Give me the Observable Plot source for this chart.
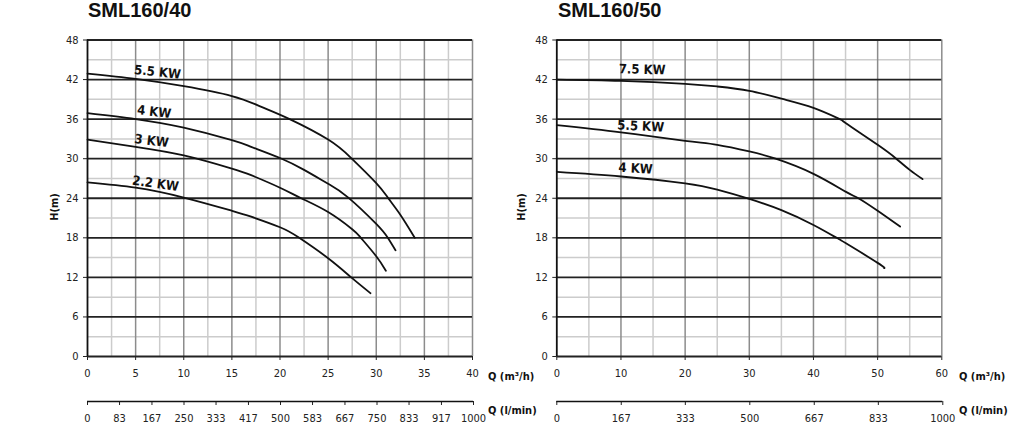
<!DOCTYPE html>
<html>
<head>
<meta charset="utf-8">
<script src="https://cdn.jsdelivr.net/npm/d3@7"></script>
<script src="https://cdn.jsdelivr.net/npm/@observablehq/plot@0.6"></script>
<style>
  html, body { margin: 0; padding: 0; background: #fff; }
  #wrap { position: relative; width: 1024px; height: 428px; overflow: hidden; background: #fff; }
  .abs { position: absolute; white-space: nowrap; }
  .title { font-family: "Liberation Sans", Arial, sans-serif; font-weight: bold; font-size: 20px; line-height: 20px; color: #111; }
  .lab { font-family: "Liberation Sans Narrow", "DejaVu Sans Condensed", "Roboto Condensed", sans-serif; font-weight: bold; font-size: 11px; line-height: 12px; color: #111; }
  .hm { transform: translate(-50%, -50%) rotate(-90deg); }
</style>
</head>
<body>
<div id="wrap"></div>
<script>
// ---------- data: SML160/40 (Q in m³/h, H in m) ----------
const titleLeft = "SML160/40";
const titleRight = "SML160/50";

const L55_q = [0, 5, 10, 15, 18, 21, 25, 27.4, 30, 31.2, 32.5, 34];
const L55_h = [42.9, 42.1, 41.0, 39.5, 37.9, 36.0, 32.9, 30.1, 26.3, 24.1, 21.5, 18.0];
const L4_q  = [0, 5, 10, 15, 17, 20, 22.5, 25, 27.1, 30, 31.2, 32];
const L4_h  = [36.9, 36.0, 34.7, 32.8, 31.8, 30.1, 28.3, 26.2, 24.1, 20.1, 18.0, 16.1];
const L3_q  = [0, 5, 10, 15, 17, 20, 22.2, 25, 27.5, 28.4, 30, 31];
const L3_h  = [32.9, 31.8, 30.5, 28.5, 27.5, 25.6, 24.0, 21.9, 19.3, 18.0, 15.2, 13.0];
const L22_q = [0, 5, 10, 15, 17, 20, 22, 25, 27.4, 29.4];
const L22_h = [26.4, 25.6, 24.1, 22.1, 21.2, 19.6, 18.0, 14.9, 12.0, 9.6];

// ---------- data: SML160/50 ----------
const R75_q = [0, 10, 20, 25, 30, 35, 40, 44.1, 45, 50, 52.9, 55, 57];
const R75_h = [42.0, 41.8, 41.35, 40.95, 40.3, 39.1, 37.7, 36.0, 35.4, 32.1, 30.0, 28.3, 26.9];
const R55_q = [0, 10, 20, 25, 30, 34.1, 40, 45, 47, 50, 53.5];
const R55_h = [35.1, 34.0, 32.7, 32.1, 31.1, 30.0, 27.7, 25.0, 24.0, 22.1, 19.7];
const R4_q  = [0, 10, 20, 25, 30, 35, 40, 43.6, 45, 50, 51];
const R4_h  = [28.0, 27.3, 26.25, 25.3, 23.9, 22.2, 19.95, 18.0, 17.2, 14.2, 13.4];

// series labels
const leftLabels  = ["5.5 KW", "4 KW", "3 KW", "2.2 KW"];
const leftLabQ    = [7.27, 6.93, 6.65, 7.07];
const leftLabH    = [43.1, 37.1, 32.7, 26.2];
const leftLabRot  = [6, 7, 7, 8];
const rightLabels = ["7.5 KW", "5.5 KW", "4 KW"];
const rightLabQ   = [13.3, 13.07, 12.27];
const rightLabH   = [43.5, 34.9, 28.5];
const rightLabRot = [1.5, 3, 3];

// axes
const yTicks  = [0, 6, 12, 18, 24, 30, 36, 42, 48];
const yMinor  = [3, 9, 15, 21, 27, 33, 39, 45];
const leftXTicks  = [0, 5, 10, 15, 20, 25, 30, 35, 40];
const leftXMinor  = [2.5, 7.5, 12.5, 17.5, 22.5, 27.5, 32.5, 37.5];
const rightXTicks = [0, 10, 20, 30, 40, 50, 60];
const rightXMinor = [5, 15, 25, 35, 45, 55];
const leftLpm  = [0, 83, 167, 250, 333, 417, 500, 583, 667, 750, 833, 917, 1000];
const rightLpm = [0, 167, 333, 500, 667, 833, 1000];

const NARROW = '"Liberation Sans Narrow", "DejaVu Sans Condensed", "Roboto Condensed", sans-serif';

function series(qs, hs, name) {
  return qs.map((q, i) => ({q, h: hs[i], s: name}));
}

function mainChart(cfg) {
  const curves = cfg.series.flat();
  const labs = cfg.labels.map((t, i) => ({t, q: cfg.labQ[i], h: cfg.labH[i], r: cfg.labRot[i]}));
  return Plot.plot({
    width: 512, height: 356,
    marginLeft: cfg.ml, marginRight: cfg.mr, marginTop: 11.5, marginBottom: 28,
    style: {fontFamily: NARROW, fontSize: "11px", color: "#222", background: "transparent", overflow: "visible"},
    x: {domain: [0, cfg.xmax], ticks: cfg.xTicks, tickSize: 4, tickPadding: 9, label: null},
    y: {domain: [0, 48], ticks: yTicks, tickSize: 4, tickPadding: 5, label: null},
    marks: [
      Plot.ruleX(cfg.xMinor, {stroke: "#cccccc", strokeWidth: 1.5}),
      Plot.ruleY(yMinor, {stroke: "#cccccc", strokeWidth: 1.5}),
      Plot.ruleX(cfg.xTicks.slice(1), {stroke: "#8c8c8c", strokeWidth: 1.5}),
      Plot.ruleY(yTicks, {stroke: "#222", strokeWidth: 1.8}),
      Plot.ruleX([0], {stroke: "#111", strokeWidth: 1.8}),
      Plot.line(curves, {x: "q", y: "h", z: "s", curve: "natural", stroke: "#111", strokeWidth: 1.8}),
      Plot.text(labs, {x: "q", y: "h", text: "t", rotate: "r", fontWeight: "bold", fontSize: 13, fill: "#111"})
    ]
  });
}

function lpmAxis(cfg) {
  return Plot.plot({
    width: 512, height: 38,
    marginLeft: cfg.ml, marginRight: cfg.mr, marginTop: 0, marginBottom: 28,
    style: {fontFamily: NARROW, fontSize: "11px", color: "#222", background: "transparent", overflow: "visible"},
    x: {domain: [0, 1000], ticks: cfg.ticks, tickFormat: d => String(d), tickSize: 4, tickPadding: 9, label: null},
    y: {domain: [0, 1], axis: null},
    marks: [Plot.ruleY([0], {stroke: "#111", strokeWidth: 1.5})]
  });
}

const wrap = document.getElementById("wrap");
function place(node, left, top) {
  node.style.position = "absolute";
  node.style.left = left + "px";
  node.style.top = top + "px";
  wrap.appendChild(node);
}
function label(text, cls, left, top) {
  const d = document.createElement("div");
  d.className = "abs " + cls;
  d.textContent = text;
  d.style.left = left + "px";
  d.style.top = top + "px";
  wrap.appendChild(d);
  return d;
}

const left = mainChart({
  ml: 87, mr: 40, xmax: 40, xTicks: leftXTicks, xMinor: leftXMinor,
  series: [series(L55_q, L55_h, "5.5"), series(L4_q, L4_h, "4"), series(L3_q, L3_h, "3"), series(L22_q, L22_h, "2.2")],
  labels: leftLabels, labQ: leftLabQ, labH: leftLabH, labRot: leftLabRot
});
place(left, 0, 28);
const right = mainChart({
  ml: 44.3, mr: 82.7, xmax: 60, xTicks: rightXTicks, xMinor: rightXMinor,
  series: [series(R75_q, R75_h, "7.5"), series(R55_q, R55_h, "5.5"), series(R4_q, R4_h, "4")],
  labels: rightLabels, labQ: rightLabQ, labH: rightLabH, labRot: rightLabRot
});
place(right, 512, 28);

place(lpmAxis({ml: 87, mr: 39, ticks: leftLpm}), 0, 391);
place(lpmAxis({ml: 44.3, mr: 81.7, ticks: rightLpm}), 512, 391);

label(titleLeft, "title", 88, 0);
label(titleRight, "title", 558, 0);
label("Q (m³/h)", "lab", 488, 371);
label("Q (l/min)", "lab", 488, 405);
label("Q (m³/h)", "lab", 959, 371);
label("Q (l/min)", "lab", 959, 405);
label("H(m)", "lab hm", 55, 207);
label("H(m)", "lab hm", 522, 207);
</script>
</body>
</html>
